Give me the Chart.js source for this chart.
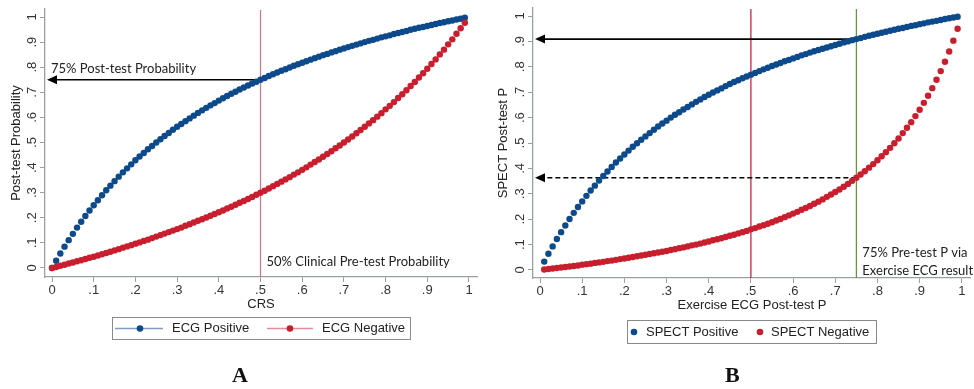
<!DOCTYPE html>
<html>
<head>
<meta charset="utf-8">
<script src="https://cdn.jsdelivr.net/npm/chart.js@4.4.1/dist/chart.umd.min.js"></script>
<style>
  html,body{margin:0;padding:0;background:#fff;}
  #wrap{position:relative;width:974px;height:389px;background:#fff;overflow:hidden;}
  .panel{position:absolute;top:0;width:487px;height:389px;}
  .lab{position:absolute;font-family:"Liberation Serif",serif;font-weight:bold;font-size:22px;color:#111;}
</style>
</head>
<body>
<div id="wrap">
  <div class="panel" style="left:0"><canvas id="cA"></canvas></div>
  <div class="panel" style="left:487px"><canvas id="cB"></canvas></div>
  <div class="lab" style="left:232px;top:362px">A</div>
  <div class="lab" style="left:725px;top:362px">B</div>
</div>
<script>
// ---------- DATA ----------
const crs = [0,0.01,0.02,0.03,0.04,0.05,0.06,0.07,0.08,0.09,
0.10,0.11,0.12,0.13,0.14,0.15,0.16,0.17,0.18,0.19,
0.20,0.21,0.22,0.23,0.24,0.25,0.26,0.27,0.28,0.29,
0.30,0.31,0.32,0.33,0.34,0.35,0.36,0.37,0.38,0.39,
0.40,0.41,0.42,0.43,0.44,0.45,0.46,0.47,0.48,0.49,
0.50,0.51,0.52,0.53,0.54,0.55,0.56,0.57,0.58,0.59,
0.60,0.61,0.62,0.63,0.64,0.65,0.66,0.67,0.68,0.69,
0.70,0.71,0.72,0.73,0.74,0.75,0.76,0.77,0.78,0.79,
0.80,0.81,0.82,0.83,0.84,0.85,0.86,0.87,0.88,0.89,
0.90,0.91,0.92,0.93,0.94,0.95,0.96,0.97,0.98,0.99];

const ecgPositive = [0,.029,.058,.085,.111,.136,.161,.184,.207,.229,
.25,.270,.290,.310,.328,.346,.364,.381,.397,.413,
.429,.444,.458,.473,.486,.5,.513,.526,.538,.551,
.563,.574,.585,.596,.607,.618,.628,.638,.648,.657,
.667,.676,.685,.694,.702,.711,.719,.727,.735,.742,
.75,.757,.765,.772,.779,.786,.792,.799,.806,.812,
.818,.824,.830,.836,.842,.848,.853,.859,.864,.870,
.875,.880,.885,.890,.895,.9,.905,.909,.914,.919,
.923,.927,.932,.936,.940,.944,.949,.953,.957,.960,
.964,.968,.972,.976,.979,.983,.986,.990,.993,.997];

const ecgNegative = [0,.004,.009,.013,.018,.022,.027,.031,.036,.041,
.045,.050,.055,.060,.065,.070,.075,.081,.086,.091,
.097,.102,.108,.113,.119,.125,.131,.137,.143,.149,
.155,.161,.168,.174,.181,.188,.194,.201,.208,.215,
.222,.229,.237,.244,.252,.260,.267,.275,.283,.292,
.3,.308,.317,.326,.335,.344,.353,.362,.372,.381,
.391,.401,.412,.422,.432,.443,.454,.465,.477,.488,
.5,.512,.524,.537,.550,.563,.576,.589,.603,.617,
.632,.646,.661,.677,.692,.708,.725,.741,.759,.776,
.794,.813,.831,.851,.870,.891,.911,.933,.955,.977];

const exEcgPost = [0.01,0.02,0.03,0.04,0.05,0.06,0.07,0.08,0.09,0.10,
0.11,0.12,0.13,0.14,0.15,0.16,0.17,0.18,0.19,0.20,
0.21,0.22,0.23,0.24,0.25,0.26,0.27,0.28,0.29,0.30,
0.31,0.32,0.33,0.34,0.35,0.36,0.37,0.38,0.39,0.40,
0.41,0.42,0.43,0.44,0.45,0.46,0.47,0.48,0.49,0.50,
0.51,0.52,0.53,0.54,0.55,0.56,0.57,0.58,0.59,0.60,
0.61,0.62,0.63,0.64,0.65,0.66,0.67,0.68,0.69,0.70,
0.71,0.72,0.73,0.74,0.75,0.76,0.77,0.78,0.79,0.80,
0.81,0.82,0.83,0.84,0.85,0.86,0.87,0.88,0.89,0.90,
0.91,0.92,0.93,0.94,0.95,0.96,0.97,0.98,0.99];

const spectPositive = [.033,.064,.093,.122,.149,.175,.201,.225,.248,.270,
.292,.313,.332,.352,.370,.388,.406,.423,.439,.455,
.470,.485,.499,.513,.526,.539,.552,.565,.577,.588,
.600,.611,.621,.632,.642,.652,.662,.671,.681,.690,
.699,.707,.715,.724,.732,.740,.747,.755,.762,.769,
.776,.783,.790,.796,.803,.809,.815,.822,.827,.833,
.839,.845,.850,.856,.861,.866,.871,.876,.881,.886,
.891,.896,.900,.905,.909,.913,.918,.922,.926,.930,
.934,.938,.942,.946,.950,.953,.957,.961,.964,.968,
.971,.975,.978,.981,.984,.988,.991,.994,.997];

const spectNegative = [.002,.004,.006,.008,.010,.012,.014,.016,.018,.021,
.023,.025,.028,.030,.032,.035,.037,.040,.043,.045,
.048,.051,.054,.057,.060,.063,.066,.069,.072,.075,
.079,.082,.086,.089,.093,.097,.100,.104,.108,.112,
.117,.121,.125,.130,.135,.139,.144,.149,.154,.160,
.165,.171,.176,.182,.188,.195,.201,.208,.215,.222,
.229,.237,.244,.252,.261,.269,.278,.288,.297,.307,
.317,.328,.339,.351,.363,.376,.389,.403,.417,.432,
.448,.464,.481,.499,.518,.539,.560,.582,.606,.631,
.658,.686,.716,.749,.783,.820,.860,.903,.950];

const tickValues = [0,0.1,0.2,0.3,0.4,0.5,0.6,0.7,0.8,0.9,1];
const tickLabels = ['0','.1','.2','.3','.4','.5','.6','.7','.8','.9','1'];

// reference markers
const pretestA = 0.5, posttestA = 0.75;
const pretestB1 = 0.5, pretestB2 = 0.75, posttestBpos = 0.909, posttestBneg = 0.363;

// ---------- STYLE ----------
const BLUE = '#0d4a8b', RED = '#c81e2e';
const AXIS = '#9aa0a2';
const TICKFONT = {family:'"Liberation Sans", Arial, sans-serif', size:13};
const NOTEFONT = '13px Lato, "Open Sans", sans-serif';

function pts(xs, ys){ return xs.map((x,i)=>({x:x,y:ys[i]})); }
function lbl(v){ const i = tickValues.findIndex(t=>Math.abs(t-v)<1e-9); return i<0?'':tickLabels[i]; }

function arrowLeft(ctx, xStart, xTip, y, dashed){
  ctx.save();
  ctx.strokeStyle = '#000'; ctx.fillStyle = '#000'; ctx.lineWidth = 1.6;
  if (dashed) ctx.setLineDash([5,3]);
  ctx.beginPath(); ctx.moveTo(xStart, y); ctx.lineTo(xTip+8, y); ctx.stroke();
  ctx.setLineDash([]);
  ctx.beginPath(); ctx.moveTo(xTip, y); ctx.lineTo(xTip+10, y-4.5); ctx.lineTo(xTip+10, y+4.5); ctx.closePath(); ctx.fill();
  ctx.restore();
}
function vline(chart, v, color){
  const ctx = chart.ctx, a = chart.chartArea, x = chart.scales.x.getPixelForValue(v);
  ctx.save(); ctx.strokeStyle = color; ctx.lineWidth = 1.2;
  ctx.beginPath(); ctx.moveTo(x, a.top+1); ctx.lineTo(x, a.bottom); ctx.stroke(); ctx.restore();
}
function yTickLabels(chart, dx){
  const ctx = chart.ctx, ys = chart.scales.y, a = chart.chartArea;
  ctx.save();
  ctx.font = '13px "Liberation Sans", Arial, sans-serif';
  ctx.fillStyle = '#333'; ctx.textAlign = 'center'; ctx.textBaseline = 'middle';
  tickValues.forEach((v,i)=>{
    const y = ys.getPixelForValue(v);
    ctx.save(); ctx.translate(a.left - dx, y); ctx.rotate(-Math.PI/2); ctx.fillText(tickLabels[i],0,0); ctx.restore();
  });
  ctx.restore();
}
function legendBox(chart, box, items){
  const ctx = chart.ctx;
  ctx.save();
  ctx.fillStyle = '#fff'; ctx.fillRect(box.x, box.y, box.w, box.h);
  ctx.strokeStyle = '#8a8a8a'; ctx.lineWidth = 1;
  ctx.strokeRect(box.x+0.5, box.y+0.5, box.w, box.h);
  ctx.font = '13px "Liberation Sans", Arial, sans-serif';
  ctx.textBaseline = 'middle'; ctx.textAlign = 'left';
  const cy = box.y + box.h/2 + 0.5;
  items.forEach(it=>{
    if (it.line) {
      ctx.strokeStyle = it.line; ctx.lineWidth = 1.6;
      ctx.beginPath(); ctx.moveTo(it.l1, cy); ctx.lineTo(it.l2, cy); ctx.stroke();
    }
    ctx.fillStyle = it.color;
    ctx.beginPath(); ctx.arc(it.m, cy, 3.3, 0, Math.PI*2); ctx.fill();
    ctx.fillStyle = '#222'; ctx.fillText(it.text, it.tx, cy);
  });
  ctx.restore();
}

function baseOptions(xr, yr, pad, xTitle, yTitle){
  return {
    responsive:true, maintainAspectRatio:false, animation:false,
    layout:{padding:pad},
    plugins:{legend:{display:false}, tooltip:{enabled:false}},
    elements:{point:{radius:3.2, borderWidth:0, hoverRadius:3.2}},
    scales:{
      x:{type:'linear', min:xr[0], max:xr[1],
        afterBuildTicks:s=>{ s.ticks = tickValues.map(v=>({value:v})); },
        afterFit:s=>{ s.height = 36; },
        grid:{drawOnChartArea:false, drawTicks:true, tickLength:5, color:AXIS, lineWidth:1},
        border:{display:true, color:AXIS, width:1.3},
        ticks:{font:TICKFONT, color:'#333', padding:1, maxRotation:0, autoSkip:false, callback:v=>lbl(v)},
        title:{display:true, text:xTitle, font:TICKFONT, color:'#222', padding:{top:0,bottom:1}}
      },
      y:{type:'linear', min:yr[0], max:yr[1],
        afterBuildTicks:s=>{ s.ticks = tickValues.map(v=>({value:v})); },
        afterFit:s=>{ s.width = pad.yw; },
        grid:{drawOnChartArea:false, drawTicks:true, tickLength:5, color:AXIS, lineWidth:1},
        border:{display:true, color:AXIS, width:1.3},
        ticks:{display:false},
        title:{display:true, text:yTitle, font:TICKFONT, color:'#222', padding:{top:9,bottom:9}}
      }
    }
  };
}

// ---------- PANEL A ----------
const optA = baseOptions([-0.0168, 1.0192], [-0.0359, 1.0319],
  {left:0, right:10, top:9, bottom:76, yw:45}, 'CRS', 'Post-test Probability');
new Chart(document.getElementById('cA'), {
  type:'scatter',
  data:{datasets:[
    {label:'ECG Negative', data:pts(crs, ecgNegative), backgroundColor:RED, pointBackgroundColor:RED, showLine:false, order:0},
    {label:'ECG Positive', data:pts(crs, ecgPositive), backgroundColor:BLUE, pointBackgroundColor:BLUE, showLine:false, order:1}
  ]},
  options:optA,
  plugins:[{
    id:'annA',
    beforeDatasetsDraw(chart){
      const ctx = chart.ctx, a = chart.chartArea, xs = chart.scales.x, ys = chart.scales.y;
      vline(chart, pretestA, '#d4728a');
      arrowLeft(ctx, xs.getPixelForValue(pretestA), a.left+2, ys.getPixelForValue(posttestA), false);
    },
    afterDraw(chart){
      const ctx = chart.ctx, a = chart.chartArea, xs = chart.scales.x, ys = chart.scales.y;
      yTickLabels(chart, 13);
      ctx.save(); ctx.font = NOTEFONT; ctx.fillStyle = '#222'; ctx.textBaseline = 'middle'; ctx.textAlign = 'left';
      ctx.fillText('75% Post-test Probability', a.left+6, ys.getPixelForValue(posttestA)-11);
      ctx.fillText('50% Clinical Pre-test Probability', xs.getPixelForValue(pretestA)+6, a.bottom-15);
      ctx.restore();
      legendBox(chart, {x:112, y:317, w:298, h:22}, [
        {line:'#7f9cc3', l1:115, l2:163, m:140, color:BLUE, text:'ECG Positive', tx:172},
        {line:'#e38c98', l1:267, l2:313, m:290, color:RED, text:'ECG Negative', tx:322}
      ]);
    }
  }]
});

// ---------- PANEL B ----------
const optB = baseOptions([-0.0166, 1.0213], [-0.0315, 1.0315],
  {left:0, right:3, top:8, bottom:75, yw:46}, 'Exercise ECG Post-test P', 'SPECT Post-test P');
new Chart(document.getElementById('cB'), {
  type:'scatter',
  data:{datasets:[
    {label:'SPECT Negative', data:pts(exEcgPost, spectNegative), backgroundColor:RED, pointBackgroundColor:RED, showLine:false, order:0},
    {label:'SPECT Positive', data:pts(exEcgPost, spectPositive), backgroundColor:BLUE, pointBackgroundColor:BLUE, showLine:false, order:1}
  ]},
  options:optB,
  plugins:[{
    id:'annB',
    beforeDatasetsDraw(chart){
      const ctx = chart.ctx, a = chart.chartArea, xs = chart.scales.x, ys = chart.scales.y;
      vline(chart, pretestB1, '#c8102e');
      vline(chart, pretestB2, '#5f9132');
      const x2 = xs.getPixelForValue(pretestB2);
      arrowLeft(ctx, x2, a.left+2, ys.getPixelForValue(posttestBpos), false);
      arrowLeft(ctx, x2, a.left+2, ys.getPixelForValue(posttestBneg), true);
    },
    afterDraw(chart){
      const ctx = chart.ctx, a = chart.chartArea, xs = chart.scales.x;
      yTickLabels(chart, 13);
      ctx.save(); ctx.font = NOTEFONT; ctx.fillStyle = '#222'; ctx.textBaseline = 'middle'; ctx.textAlign = 'left';
      const tx = xs.getPixelForValue(pretestB2)+6;
      ctx.fillText('75% Pre-test P via', tx, a.bottom-25);
      ctx.fillText('Exercise ECG result', tx, a.bottom-7);
      ctx.restore();
      legendBox(chart, {x:140, y:320, w:249, h:23}, [
        {m:147, color:BLUE, text:'SPECT Positive', tx:159},
        {m:273, color:RED, text:'SPECT Negative', tx:284}
      ]);
    }
  }]
});
</script>
</body>
</html>
